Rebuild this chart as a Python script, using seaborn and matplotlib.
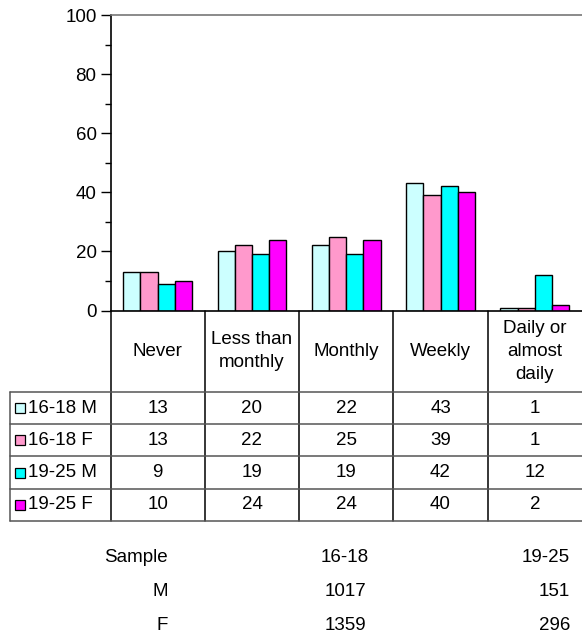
import numpy as np
import pandas as pd
import matplotlib
matplotlib.use("Agg")
import matplotlib.pyplot as plt
import seaborn as sns

sns.set_style("white")
plt.rcParams['font.family'] = ['Liberation Sans', 'DejaVu Sans']
plt.rcParams['text.color'] = 'black'
plt.rcParams['ytick.color'] = 'black'
plt.rcParams['ytick.labelcolor'] = 'black'

# data
categories = ["Never", "Less than\nmonthly", "Monthly", "Weekly", "Daily or\nalmost\ndaily"]
groups = ["16-18 M", "16-18 F", "19-25 M", "19-25 F"]
m_16_18 = [13, 20, 22, 43, 1]
f_16_18 = [13, 22, 25, 39, 1]
m_19_25 = [9, 19, 19, 42, 12]
f_19_25 = [10, 24, 24, 40, 2]
colors = ["#CCFFFF", "#FF99CC", "#00FFFF", "#FF00FF"]

sample_head = ["Sample", "16-18", "19-25"]
sample_rows = ["M", "F"]
sample_1618 = [1017, 1359]
sample_1925 = [151, 296]

series = [m_16_18, f_16_18, m_19_25, f_19_25]
df = pd.DataFrame({
    "category": categories * len(groups),
    "group": [g for g in groups for _ in categories],
    "value": [v for s in series for v in s],
})

W, H = 582, 640
fs = 13.5
fig = plt.figure(figsize=(W / 100, H / 100), dpi=100)

# pixel-space overlay for the data table
tab = fig.add_axes([0, 0, 1, 1])
tab.set_xlim(0, W)
tab.set_ylim(H, 0)
tab.axis("off")

# bar chart
x0, x1, y0, y1 = 110.5, 582, 15, 310.5
ax = fig.add_axes([x0 / W, 1 - y1 / H, (x1 - x0) / W, (y1 - y0) / H])
sns.barplot(data=df, x="category", y="value", hue="group", palette=colors,
            width=0.73, edgecolor="black", linewidth=1, saturation=1,
            legend=False, ax=ax)
ax.set_ylim(0, 100)
ax.set_xlim(-0.5, 4.5)
ax.set_yticks(range(0, 101, 20))
ax.set_yticks(range(10, 100, 20), minor=True)
ax.tick_params(axis="y", which="major", length=7, width=1, direction="out",
               labelsize=fs, pad=3, left=True)
ax.tick_params(axis="y", which="minor", length=4, width=1, direction="out", left=True)
ax.set_xticks([])
ax.set_xlabel("")
ax.set_ylabel("")
for s in ["left", "bottom"]:
    ax.spines[s].set_color("black")
    ax.spines[s].set_linewidth(1.2)
ax.spines["top"].set_color("#777777")
ax.spines["top"].set_linewidth(1.2)
ax.spines["right"].set_visible(False)
ax.patch.set_alpha(0)

# table geometry (pixels)
col_w = (x1 - x0) / len(categories)
col_edges = [x0 + i * col_w for i in range(len(categories) + 1)]
head_bot = 392
row_h = 32.2
row_edges = [head_bot + i * row_h for i in range(len(groups) + 1)]
left = 10
lc = "black"

for xe in col_edges[:-1]:
    tab.plot([xe, xe], [y1, row_edges[-1]], color=lc, lw=1.1)
tab.plot([left, left], [head_bot, row_edges[-1]], color="#555555", lw=1.1)
for ye in row_edges:
    tab.plot([left, W], [ye, ye], color="#555555", lw=1.1)

for i, c in enumerate(categories):
    cx = (col_edges[i] + col_edges[i + 1]) / 2
    tab.text(cx, (y1 + head_bot) / 2, c, ha="center", va="center",
             fontsize=fs, linespacing=1.45)

for r, (g, s, col) in enumerate(zip(groups, series, colors)):
    cy = (row_edges[r] + row_edges[r + 1]) / 2
    tab.add_patch(plt.Rectangle((15, cy - 5), 10, 10, facecolor=col,
                                edgecolor="black", lw=0.9))
    tab.text(28, cy, g, ha="left", va="center", fontsize=fs)
    for i, v in enumerate(s):
        cx = (col_edges[i] + col_edges[i + 1]) / 2
        tab.text(cx, cy, str(v), ha="center", va="center", fontsize=fs)

# sample sizes
tab.text(168, 558, sample_head[0], ha="right", va="center", fontsize=fs)
tab.text(345, 558, sample_head[1], ha="center", va="center", fontsize=fs)
tab.text(570, 558, sample_head[2], ha="right", va="center", fontsize=fs)
for k, lab in enumerate(sample_rows):
    yy = 592 + k * 33
    tab.text(168, yy, lab, ha="right", va="center", fontsize=fs)
    tab.text(345, yy, str(sample_1618[k]), ha="center", va="center", fontsize=fs)
    tab.text(570, yy, str(sample_1925[k]), ha="right", va="center", fontsize=fs)

fig.savefig("out.png", dpi=100)
